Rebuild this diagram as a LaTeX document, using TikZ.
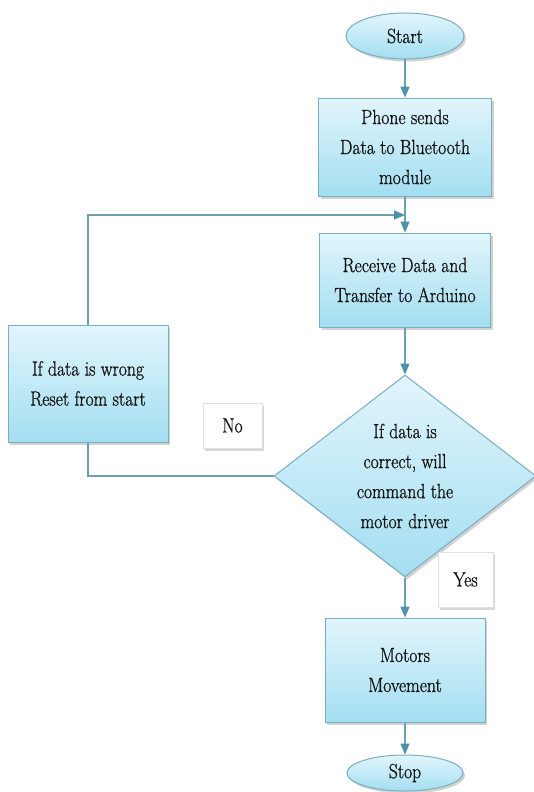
\documentclass[tikz,border=0pt]{standalone}
\usepackage{fontspec}
\setmainfont{Latin Modern Roman}[FakeStretch=0.86,FakeBold=1]
\usetikzlibrary{shapes.geometric,arrows.meta,shadows}
\definecolor{boxtop}{HTML}{E2F5FC}
\definecolor{boxbot}{HTML}{A3DEF1}
\definecolor{edgec}{HTML}{78AEC0}
\definecolor{linec}{HTML}{6D9FB1}
\definecolor{tipc}{HTML}{4E92AA}
\definecolor{txt}{HTML}{141414}
\begin{document}
\begin{tikzpicture}[x=1pt,y=-1pt,
  font=\fontsize{20.5}{30}\selectfont,
  shade/.style={draw=edgec, line width=1pt, top color=boxtop, bottom color=boxbot,
    text=txt, align=center, inner sep=0pt,
    drop shadow={opacity=0.35, shadow xshift=2pt, shadow yshift=-2.5pt}},
  procbox/.style={rectangle, shade},
  term/.style={ellipse, shade},
  decision/.style={diamond, aspect=1.3, shade},
  labelbox/.style={rectangle, draw=black!12, fill=white, text=txt, inner sep=0pt,
    drop shadow={opacity=0.3, shadow xshift=2pt, shadow yshift=-2.5pt}},
  conn/.style={draw=linec, line width=1.4pt},
  arr/.style={conn, -{Triangle[width=9pt,length=11pt,color=tipc]}}]
\useasboundingbox (0,0) rectangle (534,792);
\fill[white] (0,0) rectangle (534,792);

\node[term, minimum width=118pt, minimum height=46pt] (start) at (405,36) {Start};
\node[procbox, minimum width=173pt, minimum height=98pt] (phone) at (405,147) {Phone sends\\Data to Bluetooth\\module};
\node[procbox, minimum width=171pt, minimum height=94pt] (recv) at (405,280) {Receive Data and\\Transfer to Arduino};
\node[procbox, minimum width=160pt, minimum height=117pt] (wrong) at (88,383.5) {If data is wrong\\Reset from start};
\node[decision, minimum width=262pt, minimum height=202pt] (dec) at (405,476) {If data is\\correct, will\\command the\\motor driver};
\node[labelbox, minimum width=59pt, minimum height=45pt] (no) at (232.5,425.5) {No};
\node[labelbox, minimum width=55pt, minimum height=55pt] (yes) at (465.5,579.5) {Yes};
\node[procbox, minimum width=160pt, minimum height=104pt] (motor) at (405,670) {Motors\\Movement};
\node[term, minimum width=116pt, minimum height=36pt] (stop) at (405,773) {Stop};

\coordinate (merge) at (405,215);

\draw[arr] (start) -- (phone);
\draw[arr] (phone) -- (recv);
\draw[arr] (wrong.north) |- (merge);
\draw[arr] (recv) -- (dec);
\draw[conn] (wrong.south) |- (dec.west);
\draw[arr] (dec) -- (motor);
\draw[arr] (motor) -- (stop);
\end{tikzpicture}
\end{document}
